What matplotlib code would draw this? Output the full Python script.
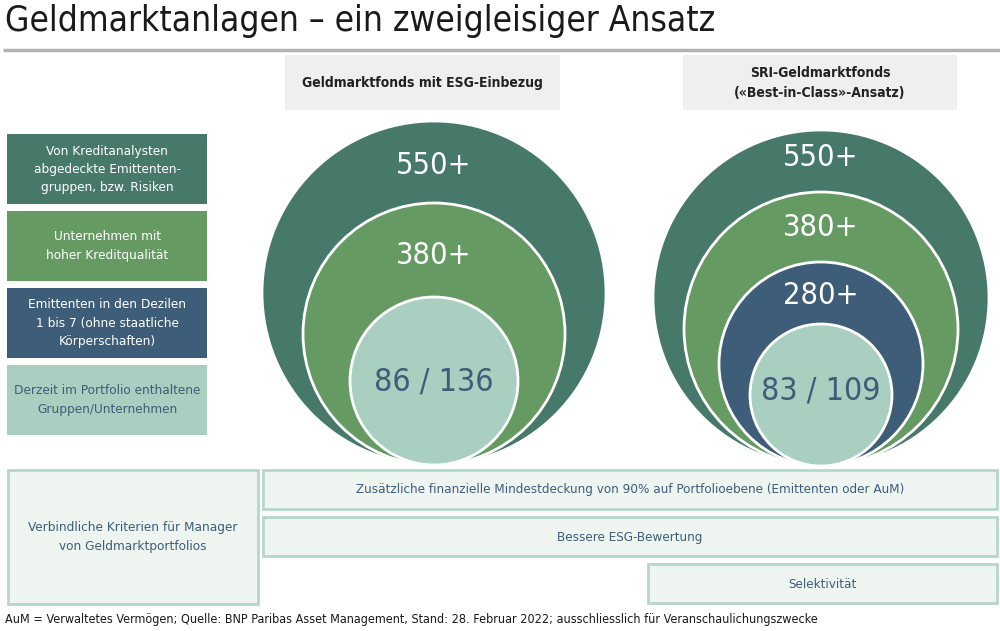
import matplotlib
matplotlib.use("Agg")
import matplotlib.pyplot as plt
from matplotlib import font_manager
from matplotlib.patches import Circle, Rectangle

# pick a narrow font if one is installed
avail = {f.name for f in font_manager.fontManager.ttflist}
if 'Liberation Sans Narrow' in avail:
    FONT, STRETCH = 'Liberation Sans Narrow', 'normal'
else:
    FONT, STRETCH = 'DejaVu Sans', 'condensed'
plt.rcParams['font.family'] = [FONT, 'DejaVu Sans']
plt.rcParams['font.stretch'] = STRETCH

title = "Geldmarktanlagen – ein zweigleisiger Ansatz"
headers = ["Geldmarktfonds mit ESG-Einbezug", "SRI-Geldmarktfonds\n(«Best-in-Class»-Ansatz)"]

legend_labels = [
    "Von Kreditanalysten\nabgedeckte Emittenten-\ngruppen, bzw. Risiken",
    "Unternehmen mit\nhoher Kreditqualität",
    "Emittenten in den Dezilen\n1 bis 7 (ohne staatliche\nKörperschaften)",
    "Derzeit im Portfolio enthaltene\nGruppen/Unternehmen",
]
legend_colors = ["#46796a", "#669a63", "#3e5d78", "#a9cfc1"]
legend_text_colors = ["white", "white", "white", "#3e5d78"]

# circle labels per fund (outer to inner), index into legend colors
left_labels = ["550+", "380+", "86 / 136"]
left_levels = [0, 1, 3]
right_labels = ["550+", "380+", "280+", "83 / 109"]
right_levels = [0, 1, 2, 3]

criteria_title = "Verbindliche Kriterien für Manager\nvon Geldmarktportfolios"
criteria = [
    "Zusätzliche finanzielle Mindestdeckung von 90% auf Portfolioebene (Emittenten oder AuM)",
    "Bessere ESG-Bewertung",
    "Selektivität",
]
footnote = ("AuM = Verwaltetes Vermögen; Quelle: BNP Paribas Asset Management, Stand: 28. Februar 2022; "
            "ausschliesslich für Veranschaulichungszwecke")

TXT_BLUE = "#3e5d78"
BOX_FILL = "#eef5f1"
BOX_EDGE = "#b5d7c8"

fig = plt.figure(figsize=(10, 6.31), dpi=100)
ax = fig.add_axes([0, 0, 1, 1])
ax.set_xlim(0, 1000)
ax.set_ylim(631, 0)
ax.set_aspect('equal')
ax.axis('off')

# title and rule
ax.text(5, 21, title, fontsize=25.3, color="#1a1a1a", va='center', ha='left')
ax.plot([3, 1000], [50, 50], color="#b3b3b3", lw=2.5, solid_capstyle='butt')

# header boxes
for (x0, x1), h in zip([(285, 560), (683, 957)], headers):
    ax.add_patch(Rectangle((x0, 55), x1 - x0, 55, facecolor="#efefef", edgecolor='none'))
    ax.text((x0 + x1) / 2, 83, h, fontsize=10, fontweight='bold', color="#222222",
            ha='center', va='center', linespacing=1.55)

# legend boxes on the left
box_tops = [134, 211, 288, 365]
for top, lab, col, tc in zip(box_tops, legend_labels, legend_colors, legend_text_colors):
    ax.add_patch(Rectangle((7, top), 200, 70, facecolor=col, edgecolor='none'))
    ax.text(107, top + 35, lab, fontsize=9.7, color=tc, ha='center', va='center', linespacing=1.5)

# nested circles, all resting near the same bottom line
def draw_rings(cx, bottom, radii, labels, levels, label_y):
    for r, lab, lev, ly in zip(radii, labels, levels, label_y):
        ax.add_patch(Circle((cx, bottom - r), r, facecolor=legend_colors[lev],
                            edgecolor='white', lw=2))
        fs = 23 if lev == 3 else 22
        ax.text(cx, ly, lab, fontsize=fs, color=legend_text_colors[lev], ha='center', va='center')

draw_rings(434, 465, [172, 131, 84], left_labels, left_levels, [165, 256, 382])
draw_rings(821, 466, [168, 137, 102, 71], right_labels, right_levels, [158, 227, 295, 391])

# bottom criteria boxes
ax.add_patch(Rectangle((8, 470), 250, 134, facecolor=BOX_FILL, edgecolor=BOX_EDGE, lw=2))
ax.text(133, 537, criteria_title, fontsize=9.7, color=TXT_BLUE, ha='center', va='center',
        linespacing=1.6)
crit_boxes = [(263, 470), (263, 517), (648, 564)]
for (x0, y0), lab in zip(crit_boxes, criteria):
    ax.add_patch(Rectangle((x0, y0), 997 - x0, 39, facecolor=BOX_FILL, edgecolor=BOX_EDGE, lw=2))
    ax.text((x0 + 997) / 2, y0 + 20, lab, fontsize=9.6, color=TXT_BLUE, ha='center', va='center')

ax.text(5, 620, footnote, fontsize=9, color="#1a1a1a", ha='left', va='center')

fig.savefig("out.png", dpi=100)
